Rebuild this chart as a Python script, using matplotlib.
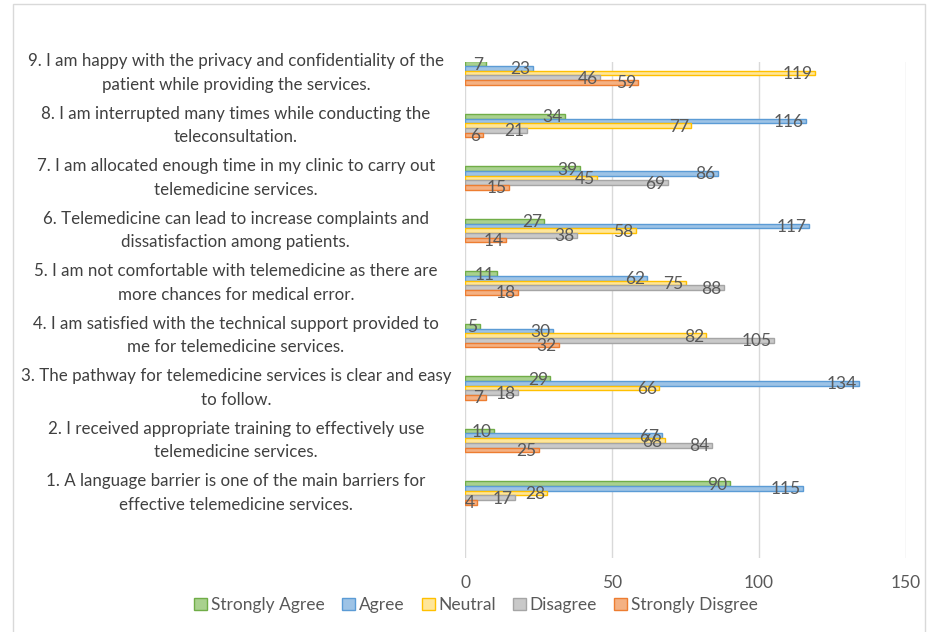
import matplotlib.pyplot as plt
from matplotlib.patches import Rectangle

# Data (category 1 at the bottom, 9 at the top).

questions = [
    "1. A language barrier is one of the main barriers for\neffective telemedicine services.",
    "2. I received appropriate training to effectively use\ntelemedicine services.",
    "3. The pathway for telemedicine services is clear and easy\nto follow.",
    "4. I am satisfied with the technical support provided to\nme for telemedicine services.",
    "5. I am not comfortable with telemedicine as there are\nmore chances for medical error.",
    "6. Telemedicine can lead to increase complaints and\ndissatisfaction among patients.",
    "7. I am allocated enough time in my clinic to carry out\ntelemedicine services.",
    "8. I am interrupted many times while conducting the\nteleconsultation.",
    "9. I am happy with the privacy and confidentiality of the\npatient while providing the services.",
]

strongly_agree = [90, 10, 29, 5, 11, 27, 39, 34, 7]
agree = [115, 67, 134, 30, 62, 117, 86, 116, 23]
neutral = [28, 68, 66, 82, 75, 58, 45, 77, 119]
disagree = [17, 84, 18, 105, 88, 38, 69, 21, 46]
strongly_disagree = [4, 25, 7, 32, 18, 14, 15, 6, 59]

series_names = ["Strongly Agree", "Agree", "Neutral", "Disagree", "Strongly Disgree"]
series_values = [strongly_agree, agree, neutral, disagree, strongly_disagree]

x_ticks = [0, 50, 100, 150]

# Style.

fills = ['#A9D18E', '#9DC3E6', '#FFE699', '#C9C9C9', '#F4B183']
edges = ['#70AD47', '#5B9BD5', '#FFC000', '#A5A5A5', '#ED7D31']
text_col = '#404040'
label_col = '#595959'

plt.rcParams['font.family'] = ['Lato', 'DejaVu Sans']

fig = plt.figure(figsize=(9.33, 6.32), dpi=100)
ax = fig.add_axes([0.4984, 0.1171, 0.4727, 0.7848])

bar_h = 0.089

for j, (name, vals) in enumerate(zip(series_names, series_values)):
    offset = (2 - j) * bar_h
    ys = [i + offset for i in range(len(vals))]
    ax.barh(ys, vals, height=bar_h, color=fills[j], edgecolor=edges[j],
            linewidth=1.0, label=name, zorder=3)
    for y, v in zip(ys, vals):
        ax.text(v - 0.8, y - 0.02, str(v), ha='right', va='center',
                fontsize=12.5, color=label_col, zorder=4)

ax.set_xlim(0, 150)
ax.set_ylim(-1.238, 8.21)
ax.set_xticks(x_ticks)
ax.set_xticklabels([str(t) for t in x_ticks], fontsize=12.5, color=label_col)
ax.set_yticks(range(len(questions)))
ax.set_yticklabels(questions, fontsize=12.2, color=text_col,
                   ha='center', va='center', linespacing=1.55)
ax.tick_params(axis='y', length=0, pad=165)
ax.tick_params(axis='x', length=0, pad=12)

for s in ax.spines.values():
    s.set_visible(False)
ax.grid(axis='x', color='#D9D9D9', linewidth=1.0, zorder=0)
ax.set_axisbelow(True)

leg = fig.legend(loc='center', bbox_to_anchor=(476 / 933, 1 - 605 / 632),
                 ncol=5, frameon=False, fontsize=12.5, handlelength=0.75,
                 handleheight=0.75, handletextpad=0.2, columnspacing=1.0)
for t in leg.get_texts():
    t.set_color(label_col)

fig.patches.append(Rectangle((13 / 933, -0.01), 912 / 933, 1 - 4 / 632 + 0.01,
                             transform=fig.transFigure, fill=False,
                             edgecolor='#D9D9D9', linewidth=1.0))

fig.savefig("out.png", dpi=100)
plt.close()
